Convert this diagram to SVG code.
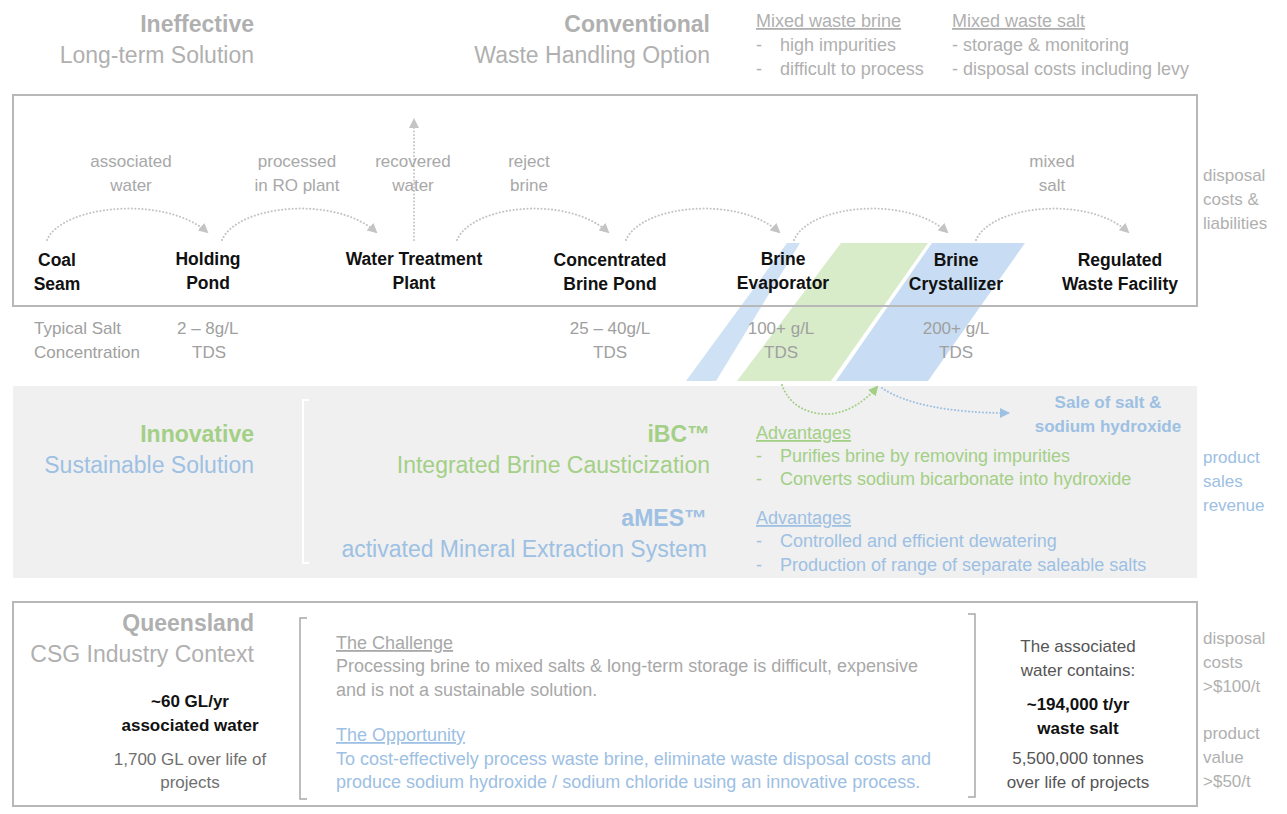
<svg xmlns="http://www.w3.org/2000/svg" width="1287" height="814" viewBox="0 0 1287 814">
<defs>
<style>
text{font-family:"Liberation Sans",Arial,sans-serif}
.h{font-size:23px}
.bd{font-weight:bold}
.gy{fill:#b0b0b0}
.gt{fill:#a8a8a8}
.gr{fill:#a3cf86}
.bl{fill:#9dc0e3}
.bk{fill:#111111}
.s18{font-size:18px}
.s17{font-size:17px}
.node{font-size:17.5px;font-weight:bold;fill:#111111;text-anchor:middle}
.mid{text-anchor:middle}
.end{text-anchor:end}
.u{text-decoration:underline}
.frame{fill:none;stroke:#b8b8b8;stroke-width:2}
.flow{fill:none;stroke:#c4c4c4;stroke-width:2;stroke-dasharray:0.1 3.4;stroke-linecap:round}
.brk{fill:none;stroke:#a8a8a8;stroke-width:1.5}
</style>
<marker id="ag" viewBox="0 0 10 10" refX="8" refY="5" markerWidth="10" markerHeight="10" markerUnits="userSpaceOnUse" orient="auto"><path d="M0,0 L10,5 L0,10 z" fill="#c4c4c4"/></marker>
<marker id="agn" viewBox="0 0 10 10" refX="8" refY="5" markerWidth="10" markerHeight="10" markerUnits="userSpaceOnUse" orient="auto"><path d="M0,0 L10,5 L0,10 z" fill="#a3cf86"/></marker>
<marker id="abl" viewBox="0 0 10 10" refX="8" refY="5" markerWidth="10" markerHeight="10" markerUnits="userSpaceOnUse" orient="auto"><path d="M0,0 L10,5 L0,10 z" fill="#9dc0e3"/></marker>
</defs>
<rect x="0" y="0" width="1287" height="814" fill="#ffffff"/>

<g id="header">
<text x="254" y="32" class="h bd gy end">Ineffective</text>
<text x="254" y="63" class="h gy end">Long-term Solution</text>
<text x="710" y="32" class="h bd gy end">Conventional</text>
<text x="710" y="63" class="h gy end">Waste Handling Option</text>
<g class="s18 gy">
<text x="756" y="27" class="u">Mixed waste brine</text>
<text x="756" y="51">-</text><text x="780" y="51">high impurities</text>
<text x="756" y="75">-</text><text x="780" y="75">difficult to process</text>
<text x="952" y="27" class="u">Mixed waste salt</text>
<text x="952" y="51">- storage &amp; monitoring</text>
<text x="952" y="75">- disposal costs including levy</text>
</g>
</g>

<g id="band">
<rect x="13" y="386" width="1184" height="192" fill="#f0f0f0"/>
</g>

<g id="stripes">
<polygon points="787,243 800,243 716,381 686,381" fill="#cfe1f4"/>
<polygon points="841,243 928,243 831,381 737,381" fill="#d9ecca"/>
<polygon points="932,243 1025,243 928,381 836,381" fill="#c8ddf3"/>
</g>

<g id="process-frame">
<rect x="13" y="95" width="1184" height="211" class="frame"/>
</g>

<g id="connectors">
<path class="flow" d="M47,240 C62,205 165,195 207,232" marker-end="url(#ag)"/>
<path class="flow" d="M222,240 C237,205 335,195 376,232" marker-end="url(#ag)"/>
<path class="flow" d="M414,240 L414,120" marker-end="url(#ag)"/>
<path class="flow" d="M457,240 C472,205 567,195 608,232" marker-end="url(#ag)"/>
<path class="flow" d="M626,240 C641,205 738,195 779,232" marker-end="url(#ag)"/>
<path class="flow" d="M794,240 C809,205 906,195 947,232" marker-end="url(#ag)"/>
<path class="flow" d="M976,240 C991,205 1088,195 1128,232" marker-end="url(#ag)"/>
<path class="flow" style="stroke:#a3cf86" d="M782,385 C790,408 812,415 830,414 C850,412 866,400 877,387" marker-end="url(#agn)"/>
<path class="flow" style="stroke:#9dc0e3" d="M882,388 C905,404 950,413 1008,413" marker-end="url(#abl)"/>
</g>

<g id="flow-labels" class="s17 gt mid">
<text x="131" y="167">associated</text><text x="131" y="191">water</text>
<text x="297" y="167">processed</text><text x="297" y="191">in RO plant</text>
<text x="413" y="167">recovered</text><text x="413" y="191">water</text>
<text x="529" y="167">reject</text><text x="529" y="191">brine</text>
<text x="1052" y="167">mixed</text><text x="1052" y="191">salt</text>
</g>

<g id="coal-seam"><text x="57" y="266" class="node">Coal</text><text x="57" y="290" class="node">Seam</text></g>
<g id="holding-pond"><text x="208" y="265" class="node">Holding</text><text x="208" y="289" class="node">Pond</text></g>
<g id="water-treatment-plant"><text x="414" y="265" class="node">Water Treatment</text><text x="414" y="289" class="node">Plant</text></g>
<g id="concentrated-brine-pond"><text x="610" y="266" class="node">Concentrated</text><text x="610" y="290" class="node">Brine Pond</text></g>
<g id="brine-evaporator"><text x="783" y="265" class="node">Brine</text><text x="783" y="289" class="node">Evaporator</text></g>
<g id="brine-crystallizer"><text x="956" y="266" class="node">Brine</text><text x="956" y="290" class="node">Crystallizer</text></g>
<g id="regulated-waste-facility"><text x="1120" y="266" class="node">Regulated</text><text x="1120" y="290" class="node">Waste Facility</text></g>

<g id="side-disposal" class="s17 gy">
<text x="1203" y="181">disposal</text><text x="1203" y="205">costs &amp;</text><text x="1203" y="229">liabilities</text>
</g>

<g id="concentrations" class="s17" fill="#a0a0a0">
<text x="34" y="334">Typical Salt</text><text x="34" y="358">Concentration</text>
<text x="177" y="334">2 – 8g/L</text><text x="209" y="358" class="mid">TDS</text>
<text x="610" y="334" class="mid">25 – 40g/L</text><text x="610" y="358" class="mid">TDS</text>
<text x="781" y="334" class="mid">100+ g/L</text><text x="781" y="358" class="mid">TDS</text>
<text x="956" y="334" class="mid">200+ g/L</text><text x="956" y="358" class="mid">TDS</text>
</g>

<g id="innovative">
<text x="254" y="442" class="h bd gr end">Innovative</text>
<text x="254" y="473" class="h bl end">Sustainable Solution</text>
<path d="M309,400 L303,400 L303,563 L309,563" fill="none" stroke="#ffffff" stroke-width="2"/>
<text x="710" y="442" class="h bd gr end">iBC™</text>
<text x="710" y="473" class="h gr end">Integrated Brine Causticization</text>
<text x="707" y="526" class="h bd bl end">aMES™</text>
<text x="707" y="557" class="h bl end">activated Mineral Extraction System</text>
<g class="s18 gr">
<text x="756" y="439" class="u">Advantages</text>
<text x="756" y="462">-</text><text x="780" y="462">Purifies brine by removing impurities</text>
<text x="756" y="485">-</text><text x="780" y="485">Converts sodium bicarbonate into hydroxide</text>
</g>
<g class="s18 bl">
<text x="756" y="524" class="u">Advantages</text>
<text x="756" y="547">-</text><text x="780" y="547">Controlled and efficient dewatering</text>
<text x="756" y="571">-</text><text x="780" y="571">Production of range of separate saleable salts</text>
</g>
<text x="1108" y="408" class="s17 bd bl mid">Sale of salt &amp;</text>
<text x="1108" y="432" class="s17 bd bl mid">sodium hydroxide</text>
</g>

<g id="side-revenue" class="s17 bl">
<text x="1203" y="463">product</text><text x="1203" y="487">sales</text><text x="1203" y="511">revenue</text>
</g>

<g id="context">
<rect x="13" y="602" width="1184" height="204" class="frame"/>
<text x="254" y="631" class="h bd gy end">Queensland</text>
<text x="254" y="662" class="h gy end">CSG Industry Context</text>
<text x="190" y="707" class="s17 bd bk mid">~60 GL/yr</text>
<text x="190" y="731" class="s17 bd bk mid">associated water</text>
<text x="190" y="765" class="s17 mid" fill="#707070">1,700 GL over life of</text>
<text x="190" y="788" class="s17 mid" fill="#707070">projects</text>
<path class="brk" d="M307,618 L300,618 L300,799 L307,799"/>
<path class="brk" d="M968,614 L975,614 L975,797 L968,797"/>
<g class="s18 gt">
<text x="336" y="649" class="u">The Challenge</text>
<text x="336" y="672">Processing brine to mixed salts &amp; long-term storage is difficult, expensive</text>
<text x="336" y="696">and is not a sustainable solution.</text>
</g>
<g class="s18 bl">
<text x="336" y="741" class="u">The Opportunity</text>
<text x="336" y="765">To cost-effectively process waste brine, eliminate waste disposal costs and</text>
<text x="336" y="788">produce sodium hydroxide / sodium chloride using an innovative process.</text>
</g>
<text x="1078" y="652" class="s17 mid" fill="#555555">The associated</text>
<text x="1078" y="676" class="s17 mid" fill="#555555">water contains:</text>
<text x="1078" y="710" class="s17 bd bk mid">~194,000 t/yr</text>
<text x="1078" y="734" class="s17 bd bk mid">waste salt</text>
<text x="1078" y="764" class="s17 mid" fill="#555555">5,500,000 tonnes</text>
<text x="1078" y="788" class="s17 mid" fill="#555555">over life of projects</text>
</g>

<g id="side-values" class="s17 gy">
<text x="1203" y="644">disposal</text><text x="1203" y="668">costs</text><text x="1203" y="692">&gt;$100/t</text>
<text x="1203" y="739">product</text><text x="1203" y="763">value</text><text x="1203" y="787">&gt;$50/t</text>
</g>
</svg>
